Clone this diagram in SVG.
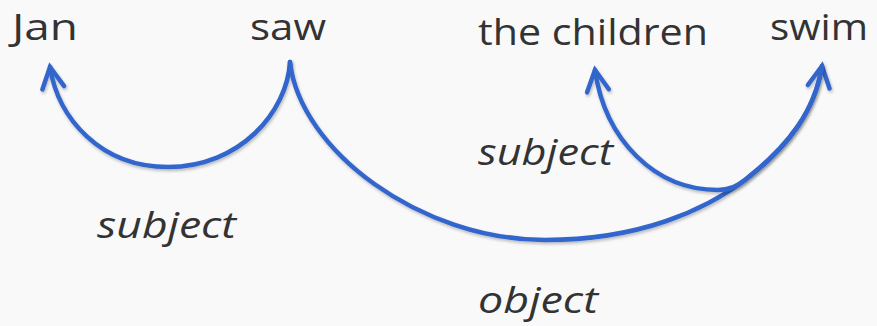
<svg xmlns="http://www.w3.org/2000/svg" width="877" height="326" viewBox="0 0 877 326">
<defs>
<style>
.w{font-family:"Open Sans","Liberation Sans",sans-serif;font-size:37px;fill:#333333}
.l{font-family:"Open Sans","Liberation Sans",sans-serif;font-size:36px;font-style:italic;fill:#333333}
.c{fill:none;stroke:#3366cc;stroke-width:4.5;stroke-linecap:round;filter:url(#sh)}
</style>
<marker id="ah" markerUnits="userSpaceOnUse" markerWidth="30" markerHeight="30" refX="0" refY="0" viewBox="-25 -15 30 30" orient="auto-start-reverse" overflow="visible">
<path d="M-21,-11 L0,0 L-21,11" fill="none" stroke="#3366cc" stroke-width="4.5" stroke-linecap="round" stroke-linejoin="miter"/>
</marker>
<filter id="sh" x="-10%" y="-10%" width="120%" height="130%">
<feDropShadow dx="1" dy="2" stdDeviation="1.5" flood-color="#000" flood-opacity="0.25"/>
</filter>
</defs>
<rect width="877" height="326" fill="#f9f9fa"/>
<g id="node-jan"><text class="w" x="12" y="40" textLength="66" lengthAdjust="spacingAndGlyphs">Jan</text></g>
<g id="node-saw"><text class="w" x="250" y="40" textLength="76" lengthAdjust="spacingAndGlyphs">saw</text></g>
<g id="node-children"><text class="w" x="478" y="45" textLength="230" lengthAdjust="spacingAndGlyphs">the children</text></g>
<g id="node-swim"><text class="w" x="770" y="40" textLength="98" lengthAdjust="spacingAndGlyphs">swim</text></g>
<g id="connectors">
<path class="c" d="M290,62 C287,112 240,167 168,167 C100,167 58,118 50,67" marker-end="url(#ah)"/>
<path class="c" d="M290,62 C300,150 420,240 545,240 C640,240 705,210 745,180 C790,145 815,110 822,66" marker-end="url(#ah)"/>
<path class="c" d="M595,70 C605,140 655,190 718,190 C730,190 738,186 745,180 C790,145 815,110 822,66" marker-start="url(#ah)"/>
</g>
<g id="labels">
<text class="l" x="97" y="238" textLength="139" lengthAdjust="spacingAndGlyphs">subject</text>
<text class="l" x="478" y="165" textLength="135" lengthAdjust="spacingAndGlyphs">subject</text>
<text class="l" x="478" y="313" textLength="120" lengthAdjust="spacingAndGlyphs">object</text>
</g>
</svg>
